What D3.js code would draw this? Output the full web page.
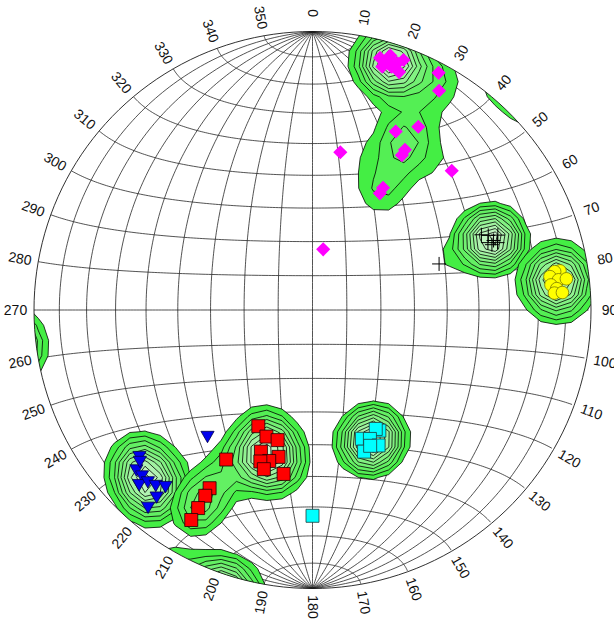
<!DOCTYPE html>
<html>
<head>
<meta charset="utf-8">
<script src="https://cdn.jsdelivr.net/npm/d3@7"></script>
<style>
  body { margin: 0; background: #fff; }
  svg { display: block; }
  text { font-family: "Liberation Sans", Arial, sans-serif; }
</style>
</head>
<body>
<svg id="net" width="614" height="621"></svg>
<script>
// Azimuth labels around the primitive (degrees, clockwise from north)
const azimuthTicks = d3.range(0, 360, 10);
// Schmidt net grid spacing (degrees)
const gridStep = 10;

// Poles as [trend, plunge] in degrees, lower hemisphere
const magentaPoles = [
  [15, 7], [17, 6], [17, 5], [19, 7], [20, 5], [16, 10], [18, 9], [20, 10], [17, 8],
  [28, 4], [30, 10], [25, 30], [30, 25], [30, 34], [30, 36], [45, 30],
  [30, 48], [30, 50], [10, 42], [10, 72]
];
const crossPoles = [
  [67, 32], [69, 31], [69, 33], [70, 30], [70, 32], [68, 29], [66, 34], [70, 50]
];
const yellowPoles = [
  [81, 11], [81, 13], [82, 15], [83, 12], [83, 9], [84, 15], [85, 13], [86, 14], [86, 11]
];
const cyanPoles = [
  [151, 49], [152, 50], [159, 49], [156, 48], [154, 45], [160, 45], [157, 46], [180, 27]
];
const redPoles = [
  [205, 52], [200, 50], [195, 50], [200, 45], [193, 45], [196, 43], [199, 42],
  [197, 40], [190, 40], [210, 38], [210, 27], [210, 24], [210, 19], [210, 14]
];
const bluePoles = [
  [220, 41], [230, 20], [228, 16], [226, 16], [225, 13], [224, 16], [222, 17],
  [220, 19], [220, 14], [220, 9], [229, 19]
];

// Contouring: lowest level (in points) and number of levels per data set
const baseLevel = 1.2;
const levelCount = 10;
const bandwidth = 20;   // kernel sigma on the net, px

const svg = d3.select("#net");
const cx = 312.5, cy = 310, R = 278.5;
const deg = Math.PI / 180;

// Equatorial equal-area (Schmidt) projection, lower hemisphere
const projection = d3.geoAzimuthalEqualArea()
  .rotate([0, 0])
  .scale(R / Math.SQRT2)
  .translate([cx, cy])
  .clipAngle(90)
  .precision(0.1);
// same projection without clipping, used for the antipodes that fall outside the primitive
const fullProjection = d3.geoAzimuthalEqualArea()
  .rotate([0, 0])
  .scale(R / Math.SQRT2)
  .translate([cx, cy]);
const geoPath = d3.geoPath(projection);

// trend/plunge -> lon/lat on the projection sphere (down = centre, east = +lon, north = +lat)
function poleToLonLat([trend, plunge]) {
  const t = trend * deg, p = plunge * deg;
  const down = Math.sin(p), east = Math.cos(p) * Math.sin(t), north = Math.cos(p) * Math.cos(t);
  return [Math.atan2(east, down) / deg, Math.asin(Math.max(-1, Math.min(1, north))) / deg];
}

// ---- grid of the net ----
const gridG = svg.append("g")
  .attr("fill", "none")
  .attr("stroke", "#1a1a1a")
  .attr("stroke-width", 0.75);

const meridians = d3.range(-90 + gridStep, 90, gridStep).map(lon => ({
  type: "LineString",
  coordinates: d3.range(-90, 90.001, 1).map(lat => [lon, lat])
}));
const parallels = d3.range(-90 + gridStep, 90, gridStep).map(lat => ({
  type: "LineString",
  coordinates: d3.range(-89.999, 89.9995, 1).map(lon => [lon, lat])
}));
gridG.selectAll("path.mer").data(meridians).join("path").attr("class", "mer").attr("d", geoPath);
gridG.selectAll("path.par").data(parallels).join("path").attr("class", "par").attr("d", geoPath);

// ---- density contours, one set per data set ----
const n = 41;
const margin = 26;
const x0 = cx - R - margin, y0 = cy - R - margin;
const stepPx = (2 * R + 2 * margin) / (n - 1);

function densityGrid(poles) {
  // each pole plus its antipode (just outside the primitive for shallow poles)
  const pts = [];
  poles.forEach(p => {
    const [lon, lat] = poleToLonLat(p);
    pts.push(projection([lon, lat]));
    pts.push(fullProjection([lon + 180, -lat]));
  });
  const k = 1 / (2 * bandwidth * bandwidth);
  const grid = new Array(n * n);
  for (let j = 0; j < n; j++) {
    for (let i = 0; i < n; i++) {
      const x = x0 + i * stepPx, y = y0 + j * stepPx;
      let d = 0;
      for (const q of pts) {
        if (!q) continue;
        const dx = x - q[0], dy = y - q[1];
        d += Math.exp(-(dx * dx + dy * dy) * k);
      }
      grid[j * n + i] = d;
    }
  }
  return grid;
}
const gxScale = d3.scaleLinear().domain([0.5, n - 0.5]).range([x0, x0 + (n - 1) * stepPx]);
const gyScale = d3.scaleLinear().domain([0.5, n - 0.5]).range([y0, y0 + (n - 1) * stepPx]);
const gridToPx = d3.geoPath(d3.geoTransform({
  point(x, y) { this.stream.point(gxScale(x), gyScale(y)); }
}));
const levelColor = d3.scaleLinear()
  .domain([0, levelCount - 1])
  .range(["#44ee44", "#d0f5d0"])
  .interpolate(d3.interpolateRgb);

svg.append("clipPath").attr("id", "primitive")
  .append("circle").attr("cx", cx).attr("cy", cy).attr("r", R);

const contourG = svg.append("g").attr("clip-path", "url(#primitive)");
[magentaPoles, crossPoles, yellowPoles, cyanPoles, bluePoles, redPoles].forEach(poles => {
  const grid = densityGrid(poles);
  const top = d3.max(grid) * 0.95;
  const levels = d3.range(levelCount).map(i => baseLevel + i * (top - baseLevel) / (levelCount - 1));
  const sets = d3.contours().size([n, n]).thresholds(levels)(grid)
    .map((s, i) => ({ ...s, level: i }))
    .filter(s => s.coordinates.length);
  contourG.append("g")
    .selectAll("path")
    .data(sets)
    .join("path")
    .attr("d", gridToPx)
    .attr("fill", d => levelColor(d.level))
    .attr("stroke", "#000")
    .attr("stroke-width", 0.8)
    .attr("stroke-linejoin", "miter");
});

// primitive circle
svg.append("path")
  .datum({ type: "Sphere" })
  .attr("d", geoPath)
  .attr("fill", "none")
  .attr("stroke", "#1a1a1a")
  .attr("stroke-width", 0.9);

// ---- azimuth labels ----
const labelR = 297;
svg.append("g")
  .attr("font-size", 14)
  .attr("fill", "#111")
  .selectAll("text")
  .data(azimuthTicks)
  .join("text")
  .attr("text-anchor", "middle")
  .attr("dominant-baseline", "central")
  .attr("transform", a => {
    const x = cx + labelR * Math.sin(a * deg), y = cy - labelR * Math.cos(a * deg);
    const rot = a <= 180 ? a - 90 : a - 270;
    return `translate(${x},${y}) rotate(${rot})`;
  })
  .text(a => a);

// ---- poles ----
const crossSymbol = {
  draw(ctx, size) {
    const r = Math.sqrt(size) / 2;
    ctx.moveTo(-r, 0); ctx.lineTo(r, 0);
    ctx.moveTo(0, -r); ctx.lineTo(0, r);
  }
};
function drawPoles(data, type, size, fill, stroke, sw, rot) {
  svg.append("g").selectAll("path")
    .data(data)
    .join("path")
    .attr("transform", d => {
      const [x, y] = projection(poleToLonLat(d));
      return `translate(${x},${y}) rotate(${rot})`;
    })
    .attr("d", d3.symbol().type(type).size(size))
    .attr("fill", fill)
    .attr("stroke", stroke)
    .attr("stroke-width", sw);
}
drawPoles(magentaPoles, d3.symbolSquare, 100, "#ff00ff", "none", 0, 45);
drawPoles(crossPoles, crossSymbol, 196, "none", "#000", 1, 0);
drawPoles(yellowPoles, d3.symbolCircle, 125, "#ffff00", "#7a7a00", 0.8, 0);
drawPoles(cyanPoles, d3.symbolSquare, 169, "#00ffff", "#1d3b3b", 0.8, 0);
drawPoles(redPoles, d3.symbolSquare, 169, "#ff0000", "#200000", 0.8, 0);
drawPoles(bluePoles, d3.symbolTriangle, 75, "#0000ee", "#00004a", 0.8, 180);
</script>
</body>
</html>
